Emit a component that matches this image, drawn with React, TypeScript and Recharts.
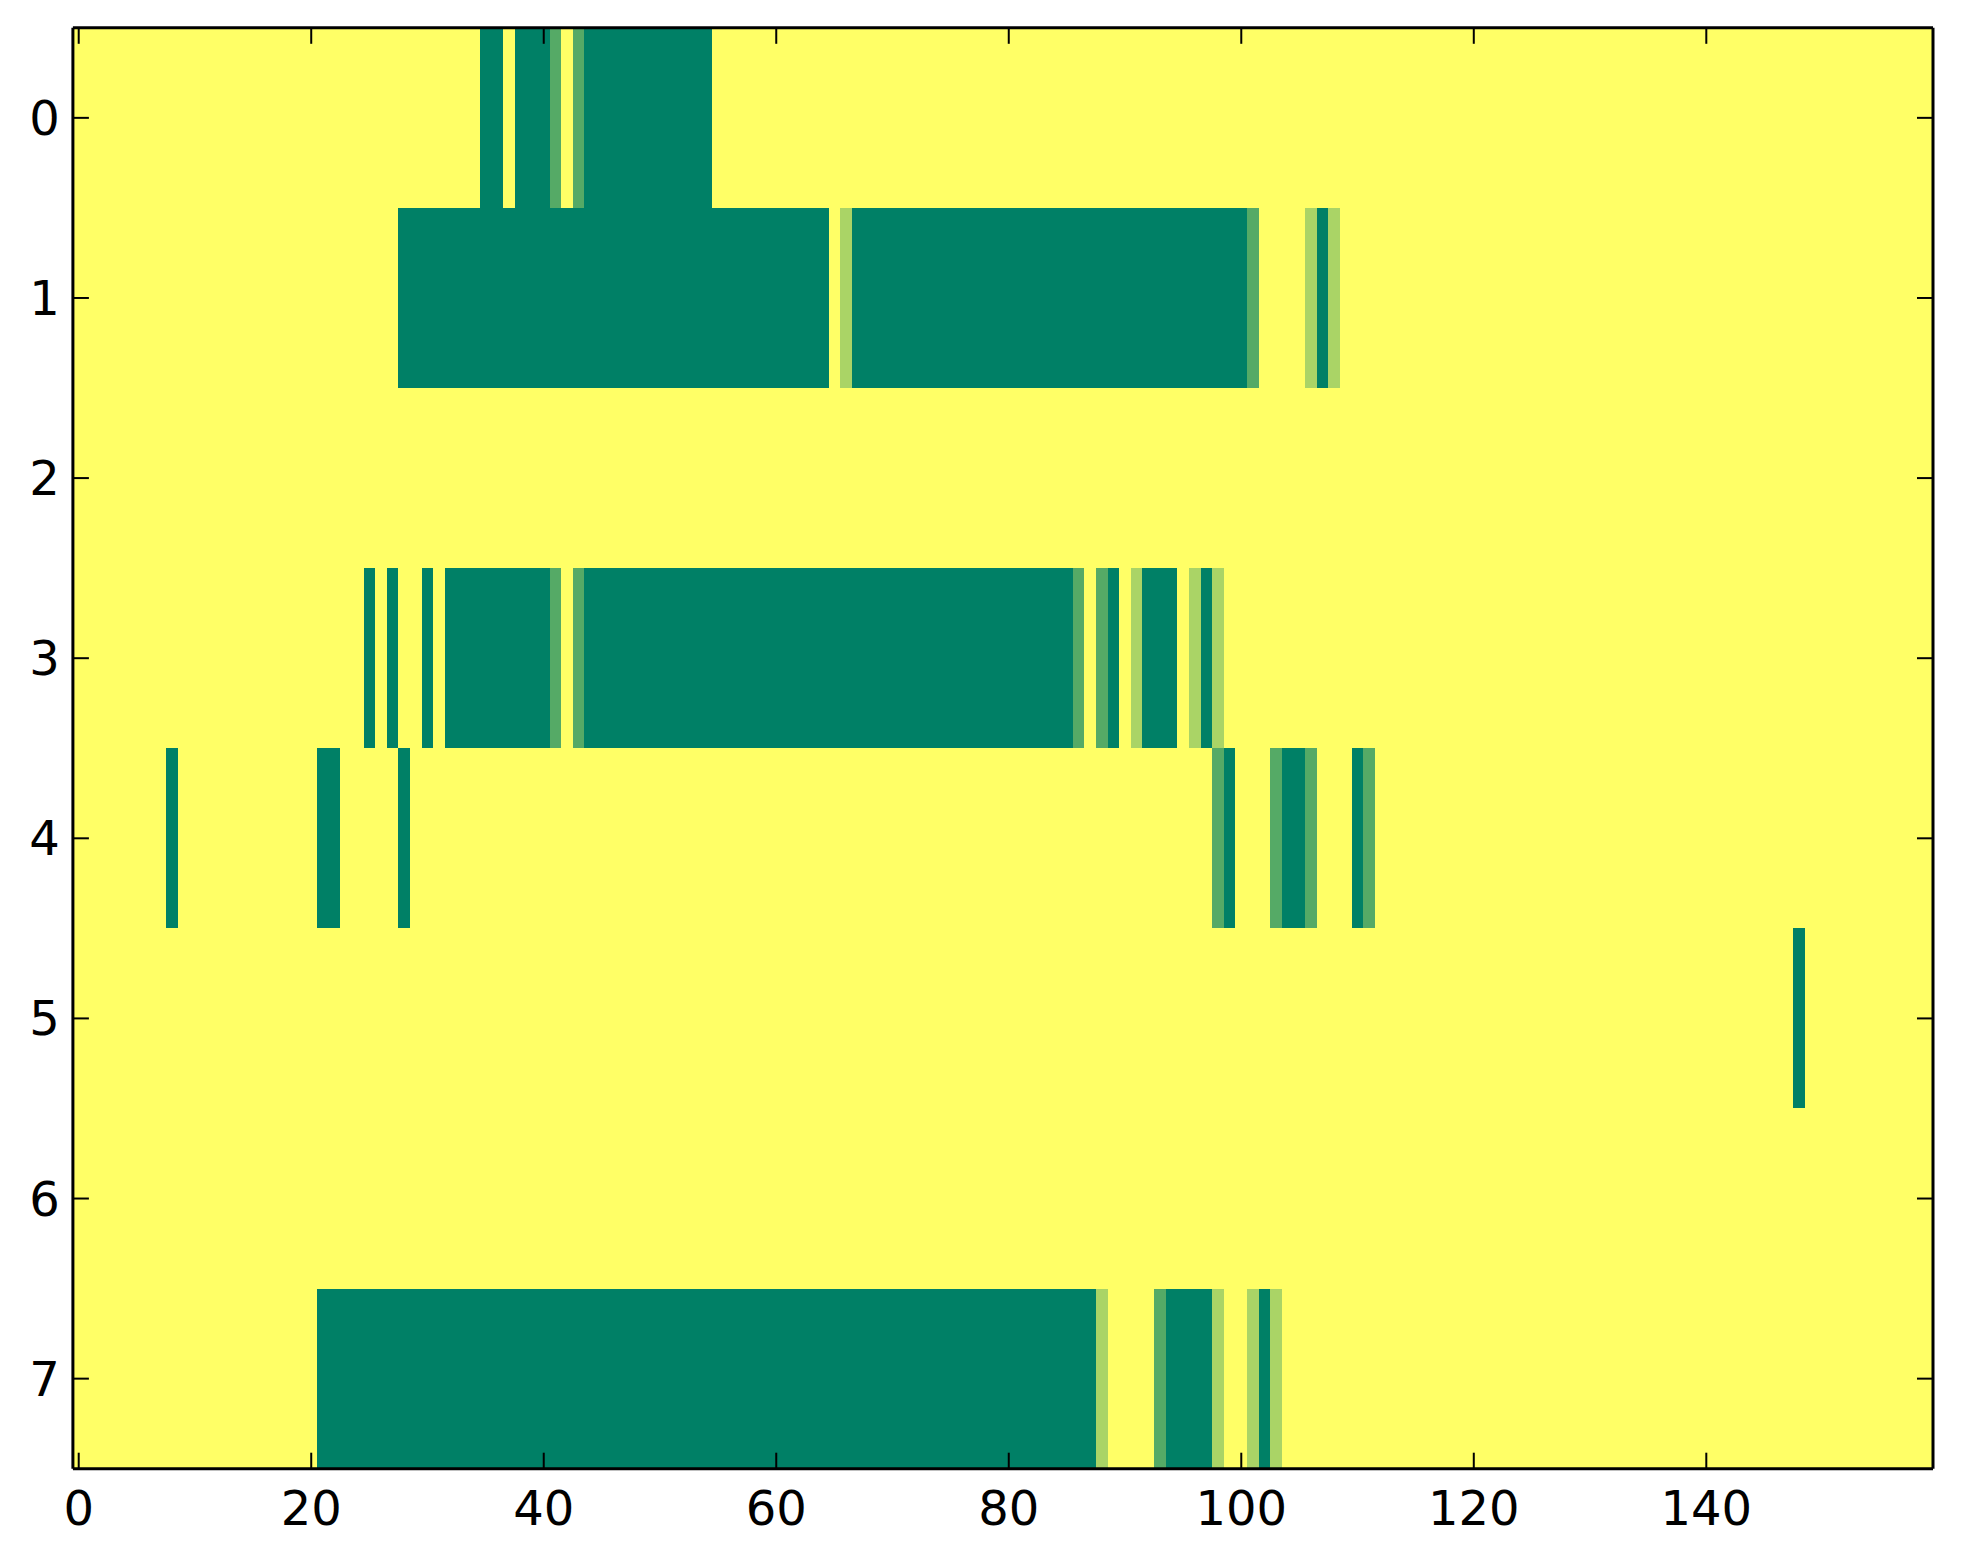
import React from 'react';
import { ScatterChart, Scatter, XAxis, YAxis, ReferenceArea, ReferenceLine } from 'recharts';

// Heatmap rows: runs of [startColumn, endColumn, level] (level 3 = dark, 2 = medium, 1 = light; rest = 0)
const row0: [number, number, number][] = [[35, 36, 3], [38, 40, 3], [41, 41, 2], [43, 43, 2], [44, 54, 3]];
const row1: [number, number, number][] = [[28, 64, 3], [66, 66, 1], [67, 100, 3], [101, 101, 2], [106, 106, 1], [107, 107, 3], [108, 108, 1]];
const row2: [number, number, number][] = [];
const row3: [number, number, number][] = [
  [25, 25, 3], [27, 27, 3], [30, 30, 3], [32, 40, 3], [41, 41, 2], [43, 43, 2], [44, 85, 3], [86, 86, 2],
  [88, 88, 2], [89, 89, 3], [91, 91, 1], [92, 94, 3], [96, 96, 1], [97, 97, 3], [98, 98, 1],
];
const row4: [number, number, number][] = [
  [8, 8, 3], [21, 22, 3], [28, 28, 3], [98, 98, 2], [99, 99, 3], [103, 103, 2], [104, 105, 3], [106, 106, 2],
  [110, 110, 3], [111, 111, 2],
];
const row5: [number, number, number][] = [[148, 148, 3]];
const row6: [number, number, number][] = [];
const row7: [number, number, number][] = [[21, 87, 3], [88, 88, 1], [93, 93, 2], [94, 97, 3], [98, 98, 1], [101, 101, 1], [102, 102, 3], [103, 103, 1]];

const rows = [row0, row1, row2, row3, row4, row5, row6, row7];
const nCols = 160;
const nRows = 8;
const xTicks = [0, 20, 40, 60, 80, 100, 120, 140];
const yTicks = [0, 1, 2, 3, 4, 5, 6, 7];

// summer colormap (reversed): level 0 -> yellow, 3 -> dark green
const levelColors = ['#ffff66', '#aad466', '#55aa66', '#008066'];

const FONT = '"DejaVu Sans", sans-serif';

// chart geometry
const W = 1947;
const H = 1548;
const MARGIN = { top: 9.8, right: 12, bottom: 27.3, left: 4.9 };
const LEFT_AXIS_W = 60;
const RIGHT_AXIS_W = 10;
const TOP_AXIS_H = 10;
const BOTTOM_AXIS_H = 60;
const PLOT_W = W - MARGIN.left - MARGIN.right - LEFT_AXIS_W - RIGHT_AXIS_W;
const PLOT_H = H - MARGIN.top - MARGIN.bottom - TOP_AXIS_H - BOTTOM_AXIS_H;
const TICK_PX = 16;
// tick length converted into data units of each axis
const TX = (TICK_PX * nCols) / PLOT_W;
const TY = (TICK_PX * nRows) / PLOT_H;

export default function App() {
  const cells: React.ReactNode[] = [];
  rows.forEach((runs, r) => {
    runs.forEach(([s, e, v], i) => {
      cells.push(
        <ReferenceArea
          key={`c-${r}-${i}`}
          xAxisId="bottom"
          yAxisId="left"
          x1={s - 0.5}
          x2={e + 0.5}
          y1={r - 0.5}
          y2={r + 0.5}
          fill={levelColors[v]}
          fillOpacity={1}
          stroke="none"
          shapeRendering="crispEdges"
          ifOverflow="visible"
        />
      );
    });
  });

  const xMin = -0.5;
  const xMax = nCols - 0.5;
  const yMin = -0.5;
  const yMax = nRows - 0.5;

  const tickMarks: React.ReactNode[] = [];
  xTicks.forEach((t) => {
    tickMarks.push(
      <ReferenceLine
        key={`xb-${t}`}
        xAxisId="bottom"
        yAxisId="left"
        segment={[{ x: t, y: yMax }, { x: t, y: yMax - TY }]}
        stroke="#000"
        strokeWidth={2}
        ifOverflow="visible"
      />,
      <ReferenceLine
        key={`xt-${t}`}
        xAxisId="bottom"
        yAxisId="left"
        segment={[{ x: t, y: yMin }, { x: t, y: yMin + TY }]}
        stroke="#000"
        strokeWidth={2}
        ifOverflow="visible"
      />
    );
  });
  yTicks.forEach((t) => {
    tickMarks.push(
      <ReferenceLine
        key={`yl-${t}`}
        xAxisId="bottom"
        yAxisId="left"
        segment={[{ x: xMin, y: t }, { x: xMin + TX, y: t }]}
        stroke="#000"
        strokeWidth={2}
        ifOverflow="visible"
      />,
      <ReferenceLine
        key={`yr-${t}`}
        xAxisId="bottom"
        yAxisId="left"
        segment={[{ x: xMax, y: t }, { x: xMax - TX, y: t }]}
        stroke="#000"
        strokeWidth={2}
        ifOverflow="visible"
      />
    );
  });

  const tickStyle = { fill: '#000', fontSize: 48, fontFamily: FONT };
  const axisLine = { stroke: '#000', strokeWidth: 3 };

  return (
    <div style={{ width: W, height: H }}>
      <ScatterChart width={W} height={H} margin={MARGIN}>
        <ReferenceArea
          xAxisId="bottom"
          yAxisId="left"
          x1={xMin}
          x2={xMax}
          y1={yMin}
          y2={yMax}
          fill={levelColors[0]}
          fillOpacity={1}
          stroke="none"
          ifOverflow="visible"
        />
        {cells}
        {tickMarks}
        <Scatter xAxisId="bottom" yAxisId="left" data={[]} isAnimationActive={false} />
        <XAxis
          xAxisId="bottom"
          dataKey="x"
          type="number"
          domain={[xMin, xMax]}
          allowDataOverflow
          ticks={xTicks}
          orientation="bottom"
          height={BOTTOM_AXIS_H}
          tickSize={0}
          tickMargin={22}
          tick={tickStyle}
          axisLine={axisLine}
          tickLine={false}
        />
        <XAxis
          xAxisId="top"
          dataKey="x"
          type="number"
          domain={[xMin, xMax]}
          allowDataOverflow
          ticks={xTicks}
          orientation="top"
          height={TOP_AXIS_H}
          tick={false}
          axisLine={axisLine}
          tickLine={false}
        />
        <YAxis
          yAxisId="left"
          dataKey="y"
          type="number"
          domain={[yMin, yMax]}
          allowDataOverflow
          reversed
          ticks={yTicks}
          orientation="left"
          width={LEFT_AXIS_W}
          tickSize={0}
          tickMargin={13}
          tick={tickStyle}
          axisLine={axisLine}
          tickLine={false}
        />
        <YAxis
          yAxisId="right"
          dataKey="y"
          type="number"
          domain={[yMin, yMax]}
          allowDataOverflow
          reversed
          ticks={yTicks}
          orientation="right"
          width={RIGHT_AXIS_W}
          tick={false}
          axisLine={axisLine}
          tickLine={false}
        />
      </ScatterChart>
    </div>
  );
}
